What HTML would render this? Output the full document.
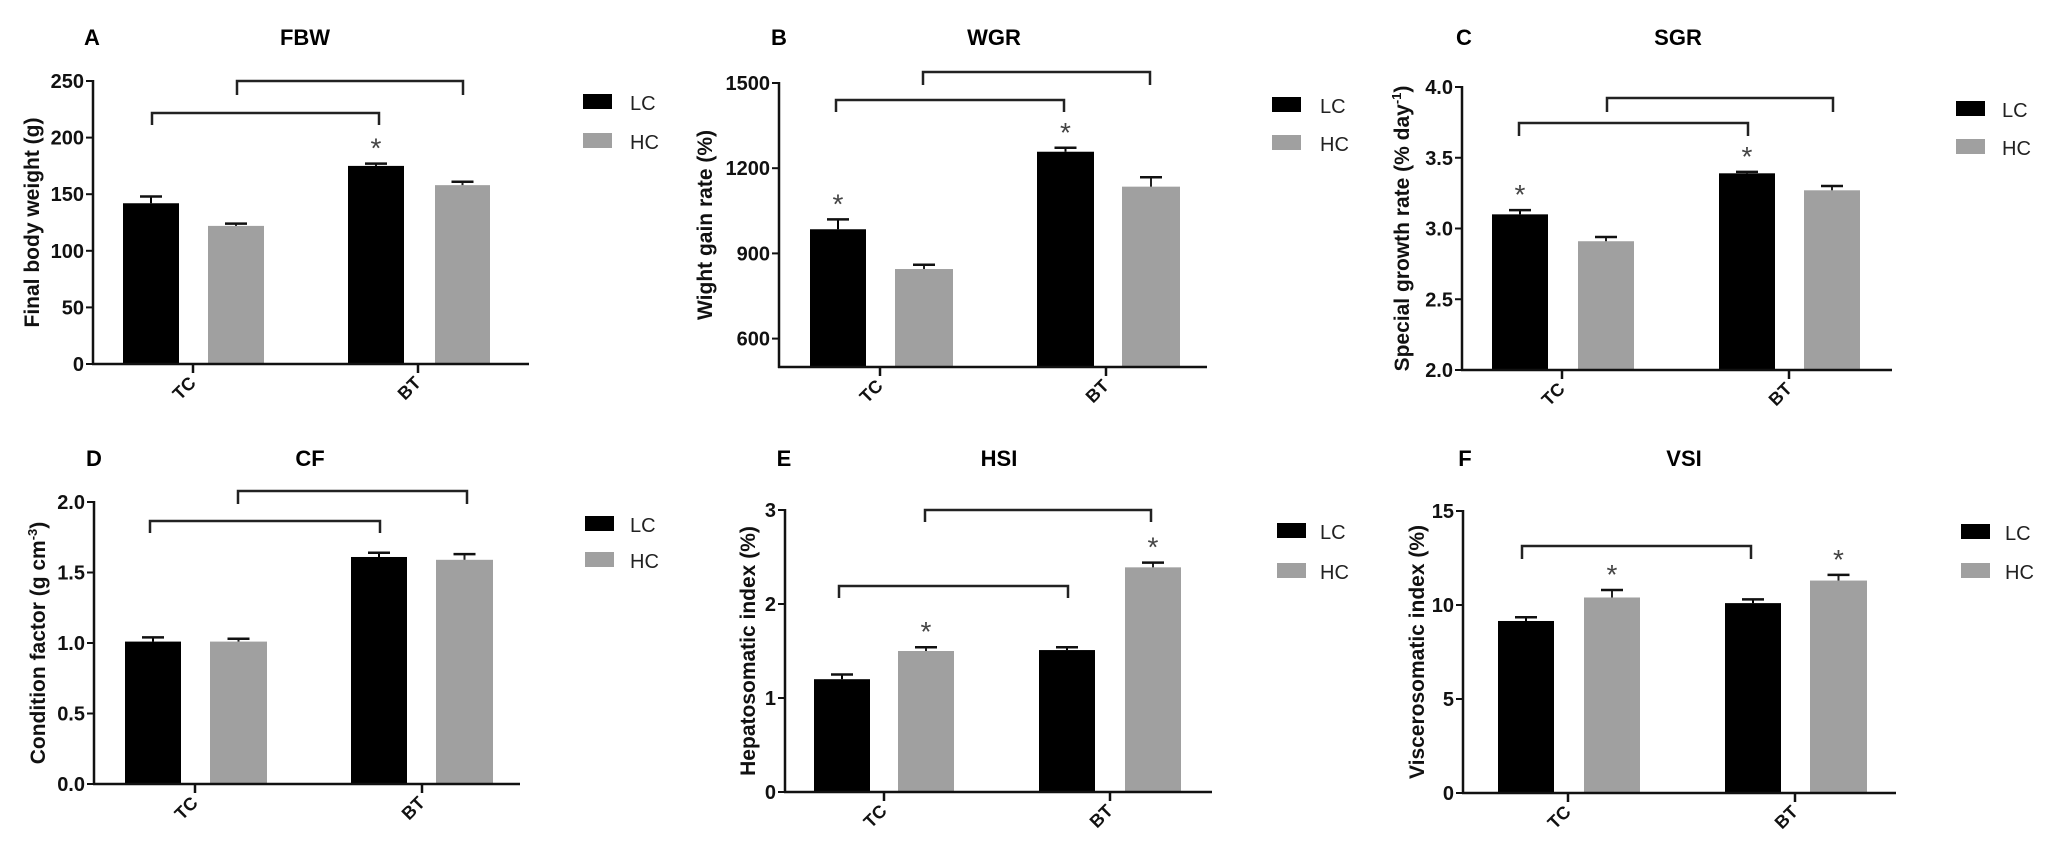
<!DOCTYPE html>
<html><head><meta charset="utf-8"><style>
html,body{margin:0;padding:0;background:#fff;}
svg{display:block;font-family:"Liberation Sans",Arial,sans-serif;}
</style></head><body>
<svg id="s" width="2048" height="846" viewBox="0 0 2048 846" xmlns="http://www.w3.org/2000/svg"></svg>
<script>
var P=[
{L:'A',T:'FBW',yl:'Final body weight (g)',ylx:32,ax:93,ae:529,ytop:81,ybot:364,min:0,max:250,ticks:[0,50,100,150,200,250],fmt:function(v){return v;},
 bars:[[123,179,142,148,0],[208,264,122,124,0],[348,404,175,177,1],[435,490,158,161,0]],tk:[193,418],
 br:[[237,463,81,95],[152,379,113,125]],lg:[583,94,133,630],ty:37,lx:92,tx:305},
{L:'B',T:'WGR',yl:'Wight gain rate (%)',ylx:705,ax:779,ae:1207,ytop:83,ybot:367,min:500,max:1500,ticks:[600,900,1200,1500],fmt:function(v){return v;},
 bars:[[810,866,985,1020,1],[895,953,845,860,0],[1037,1094,1258,1272,1],[1122,1180,1135,1168,0]],tk:[880,1106],
 br:[[923,1150,72,85],[836,1064,100,112]],lg:[1272,97,135,1320],ty:37,lx:779,tx:994},
{L:'C',T:'SGR',yl:'Special growth rate (% day',sup:'-1',ylx:1402,ax:1462,ae:1892,ytop:87,ybot:370,min:2,max:4,ticks:[2,2.5,3,3.5,4],fmt:function(v){return v.toFixed(1);},
 bars:[[1492,1548,3.10,3.13,1],[1578,1634,2.91,2.94,0],[1719,1775,3.39,3.40,1],[1804,1860,3.27,3.30,0]],tk:[1562,1789],
 br:[[1607,1833,98,112],[1519,1748,123,136]],lg:[1956,101,139,2002],ty:37,lx:1464,tx:1678},
{L:'D',T:'CF',yl:'Condition factor (g cm',sup:'-3',ylx:38,ax:94,ae:520,ytop:502,ybot:784,min:0,max:2,ticks:[0,0.5,1,1.5,2],fmt:function(v){return v.toFixed(1);},
 bars:[[125,181,1.01,1.04,0],[210,267,1.01,1.03,0],[351,407,1.61,1.64,0],[436,493,1.59,1.63,0]],tk:[195,422],
 br:[[238,467,491,504],[150,380,521,533]],lg:[585,516,552,630],ty:458,lx:94,tx:310},
{L:'E',T:'HSI',yl:'Hepatosomatic index (%)',ylx:748,ax:785,ae:1212,ytop:510,ybot:792,min:0,max:3,ticks:[0,1,2,3],fmt:function(v){return v;},
 bars:[[814,870,1.2,1.25,0],[898,954,1.5,1.54,1],[1039,1095,1.51,1.54,0],[1125,1181,2.39,2.44,1]],tk:[884,1110],
 br:[[925,1151,510,522],[839,1068,586,598]],lg:[1277,523,563,1320],ty:458,lx:784,tx:999},
{L:'F',T:'VSI',yl:'Viscerosomatic index (%)',ylx:1417,ax:1463,ae:1896,ytop:511,ybot:793,min:0,max:15,ticks:[0,5,10,15],fmt:function(v){return v;},
 bars:[[1498,1554,9.15,9.35,0],[1584,1640,10.4,10.8,1],[1725,1781,10.1,10.3,0],[1810,1867,11.3,11.6,1]],tk:[1568,1795],
 br:[[1522,1751,546,559]],lg:[1961,524,563,2005],ty:458,lx:1465,tx:1684}
];
var o='';
P.forEach(function(p){
 function Y(v){return p.ybot-(v-p.min)/(p.max-p.min)*(p.ybot-p.ytop);}
 o+='<text x="'+p.lx+'" y="'+(p.ty+8)+'" font-size="22" font-weight="bold" text-anchor="middle">'+p.L+'</text>';
 o+='<text x="'+p.tx+'" y="'+(p.ty+8)+'" font-size="22" font-weight="bold" text-anchor="middle">'+p.T+'</text>';
 p.bars.forEach(function(b,i){
  var c=(i%2==0)?'#000':'#a0a0a0';var yv=Y(b[2]),ye=Y(b[3]);var cx=(b[0]+b[1])/2;
  o+='<rect x="'+b[0]+'" y="'+yv+'" width="'+(b[1]-b[0])+'" height="'+(p.ybot-yv)+'" fill="'+c+'"/>';
  o+='<line x1="'+cx+'" y1="'+yv+'" x2="'+cx+'" y2="'+ye+'" stroke="'+(i%2==0?'#000':'#222')+'" stroke-width="2"/>';
  o+='<line x1="'+(cx-11)+'" y1="'+ye+'" x2="'+(cx+11)+'" y2="'+ye+'" stroke="#111" stroke-width="2.5"/>';
  if(b[4]) o+='<text x="'+cx+'" y="'+(ye+2-8)+'" font-size="28" fill="#444" text-anchor="middle">*</text>';
 });
 o+='<line x1="'+p.ax+'" y1="'+(p.ytop-1)+'" x2="'+p.ax+'" y2="'+(p.ybot+1)+'" stroke="#111" stroke-width="2.5"/>';
 o+='<line x1="'+(p.ax-1)+'" y1="'+p.ybot+'" x2="'+p.ae+'" y2="'+p.ybot+'" stroke="#111" stroke-width="2.5"/>';
 p.ticks.forEach(function(t){var y=Y(t);
  o+='<line x1="'+(p.ax-7)+'" y1="'+y+'" x2="'+p.ax+'" y2="'+y+'" stroke="#111" stroke-width="2"/>';
  o+='<text x="'+(p.ax-9)+'" y="'+(y+7)+'" font-size="20" font-weight="bold" text-anchor="end" fill="#111">'+p.fmt(t)+'</text>';});
 ['TC','BT'].forEach(function(n,i){var x=p.tk[i];
  o+='<line x1="'+x+'" y1="'+p.ybot+'" x2="'+x+'" y2="'+(p.ybot+9)+'" stroke="#111" stroke-width="2.5"/>';
  o+='<text transform="translate('+(x+4)+','+(p.ybot+20)+') rotate(-45)" font-size="18" font-weight="bold" text-anchor="end" fill="#111">'+n+'</text>';});
 var ym=(p.ytop+p.ybot)/2;
 o+='<text transform="translate('+(p.ylx+7)+','+ym+') rotate(-90)" font-size="21" font-weight="bold" text-anchor="middle" fill="#111">'+p.yl+(p.sup?'<tspan font-size="13" dy="-8">'+p.sup+'</tspan><tspan dy="8">)</tspan>':'')+'</text>';
 p.br.forEach(function(r){o+='<polyline points="'+r[0]+','+r[3]+' '+r[0]+','+r[2]+' '+r[1]+','+r[2]+' '+r[1]+','+r[3]+'" fill="none" stroke="#222" stroke-width="2.5"/>';});
 var g=p.lg;
 o+='<rect x="'+g[0]+'" y="'+g[1]+'" width="29" height="15" fill="#000"/>';
 o+='<rect x="'+g[0]+'" y="'+g[2]+'" width="29" height="15" fill="#a0a0a0"/>';
 o+='<text x="'+g[3]+'" y="'+(g[1]+16)+'" font-size="20" fill="#222">LC</text>';
 o+='<text x="'+g[3]+'" y="'+(g[2]+16)+'" font-size="20" fill="#222">HC</text>';
});
document.getElementById('s').innerHTML=o;
</script>
</body></html>
